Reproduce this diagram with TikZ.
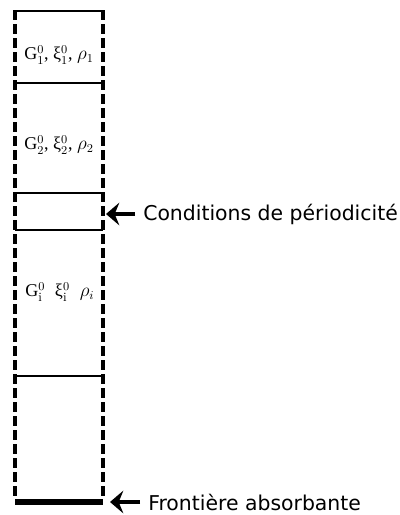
\documentclass[tikz,border=0pt]{standalone}
\usepackage{fontspec}
\setsansfont{DejaVu Sans}
\newfontfamily\cellfont{Liberation Serif}
\usetikzlibrary{arrows.meta, positioning}

\begin{document}
\begin{tikzpicture}[
    x=0.75pt, y=-0.75pt,
    wall/.style={line width=2.4pt, dash pattern=on 7.5pt off 3pt},
    layer/.style={line width=1.1pt},
    sink/.style={line width=3.8pt},
    cell/.style={font=\cellfont\fontsize{13.5}{15}\selectfont, inner sep=0pt},
    note/.style={font=\sffamily\fontsize{15.3}{17}\selectfont, anchor=west, inner sep=0pt},
    pointer/.style={-{Stealth[length=10pt, width=17pt, inset=3.5pt]}, line width=3.6pt}
]
\useasboundingbox (0,0) rectangle (400,515);

% Walls of the column
\draw[wall] (15,10) -- (15,500);
\draw[wall] (103,10) -- (103,500);

% Layer boundaries
\draw[layer] (15,11) -- (103,11);
\draw[layer] (15,83) -- (103,83);
\draw[layer] (15,193) -- (103,193);
\draw[layer] (15,230) -- (103,230);
\draw[layer] (15,376) -- (103,376);

% Absorbing bottom
\draw[sink] (15,502) -- (103,502);

% Layer properties
\node[cell] (top) at (59,55) {G$^0_1$, ξ$^0_1$, $\rho_1$};
\node[cell] (second) at (59,145) {G$^0_2$, ξ$^0_2$, $\rho_2$};
\node[cell, anchor=west] (generic) at (25,292) {G$^0_\mathrm{i}$\hspace{0.55em}ξ$^0_\mathrm{i}$\hspace{0.55em}$\rho_i$};

% Labels on the right
\coordinate (tipA) at (106,214);
\coordinate (tipB) at (110,502);
\node[note] (cond) at (143,214) {Conditions de périodicité};
\node[note] (front) at (148,502) {Frontière absorbante};

% Arrows
\draw[pointer] ([xshift=-6pt]cond.west) -- (tipA);
\draw[pointer] ([xshift=-6pt]front.west) -- (tipB);

\end{tikzpicture}
\end{document}
